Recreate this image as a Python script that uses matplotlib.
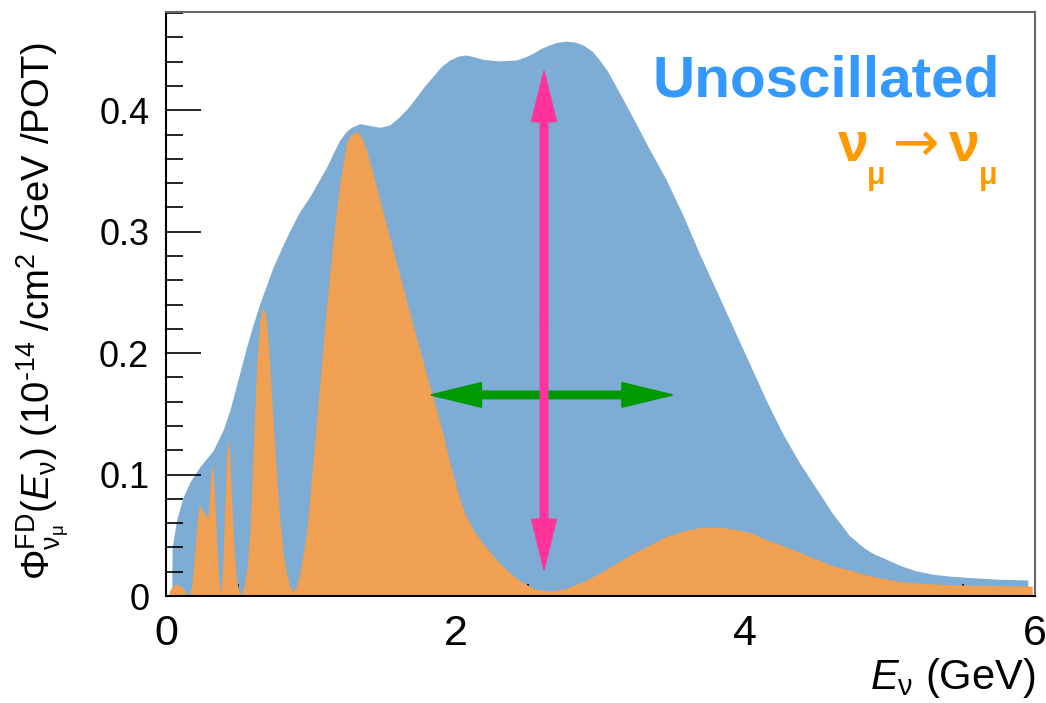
import numpy as np
import matplotlib.pyplot as plt
from matplotlib.ticker import MultipleLocator
from matplotlib.patches import FancyArrowPatch

plt.rcParams['font.family'] = ['Liberation Sans', 'DejaVu Sans']
plt.rcParams['mathtext.fontset'] = 'custom'
plt.rcParams['mathtext.rm'] = 'Liberation Sans'
plt.rcParams['mathtext.it'] = 'Liberation Sans:italic'
plt.rcParams['mathtext.bf'] = 'Liberation Sans:bold'

# unoscillated numu flux at the far detector
e_unosc = [0.04, 0.042, 0.074, 0.12, 0.166, 0.234, 0.326, 0.395, 0.441, 0.51,
           0.556, 0.60, 0.648, 0.70, 0.74, 0.80, 0.855, 0.92, 0.993, 1.05,
           1.108, 1.155, 1.2, 1.24, 1.28, 1.338, 1.407, 1.476, 1.545, 1.614,
           1.67, 1.729, 1.785, 1.843, 1.90, 1.959, 2.02, 2.074, 2.13, 2.188,
           2.303, 2.419, 2.48, 2.533, 2.59, 2.648, 2.70, 2.763, 2.82, 2.878,
           2.94, 2.993, 3.05, 3.108, 3.165, 3.223, 3.338, 3.453, 3.568, 3.683,
           3.798, 3.912, 4.028, 4.143, 4.257, 4.372, 4.487, 4.602, 4.717, 4.78,
           4.832, 4.89, 4.947, 5.062, 5.17, 5.29, 5.40, 5.52, 5.75, 5.95,
           5.951]
flux_unosc = [0.0, 0.040, 0.063, 0.082, 0.094, 0.1065, 0.120, 0.137, 0.153, 0.184,
              0.205, 0.223, 0.241, 0.258, 0.271, 0.287, 0.301, 0.316, 0.329, 0.341,
              0.353, 0.365, 0.3755, 0.382, 0.386, 0.389, 0.3875, 0.386, 0.388, 0.395,
              0.402, 0.411, 0.420, 0.428, 0.436, 0.4415, 0.4448, 0.4456, 0.4440, 0.442,
              0.4407, 0.4415, 0.444, 0.447, 0.451, 0.4539, 0.456, 0.457, 0.4563, 0.4539,
              0.449, 0.4415, 0.432, 0.4195, 0.407, 0.394, 0.368, 0.343, 0.314, 0.282,
              0.252, 0.222, 0.1917, 0.1614, 0.134, 0.110, 0.089, 0.068, 0.050, 0.0435,
              0.0386, 0.0345, 0.0317, 0.0255, 0.021, 0.018, 0.0165, 0.0154, 0.0138, 0.0132,
              0.0]

# numu -> numu survival
e_osc = [0.02, 0.022, 0.045, 0.069, 0.10, 0.12, 0.14, 0.161, 0.177, 0.2,
         0.215, 0.23, 0.255, 0.276, 0.292, 0.305, 0.312, 0.319, 0.326, 0.335,
         0.35, 0.365, 0.377, 0.39, 0.407, 0.42, 0.43, 0.44, 0.453, 0.475,
         0.487, 0.505, 0.522, 0.54, 0.56, 0.579, 0.602, 0.625, 0.648, 0.66,
         0.671, 0.682, 0.694, 0.717, 0.752, 0.786, 0.81, 0.832, 0.855, 0.878,
         0.90, 0.924, 0.97, 1.016, 1.062, 1.108, 1.154, 1.2, 1.246, 1.27,
         1.29, 1.322, 1.35, 1.384, 1.42, 1.453, 1.51, 1.568, 1.683, 1.798,
         1.912, 1.959, 2.028, 2.074, 2.13, 2.188, 2.303, 2.419, 2.533, 2.59,
         2.648, 2.70, 2.763, 2.878, 2.993, 3.108, 3.223, 3.338, 3.453, 3.568,
         3.683, 3.74, 3.798, 3.855, 3.912, 4.028, 4.143, 4.257, 4.372, 4.487,
         4.602, 4.717, 4.832, 4.947, 5.062, 5.17, 5.29, 5.52, 5.75, 5.98,
         5.981]
flux_osc = [0.0, 0.004, 0.008, 0.0099, 0.008, 0.0063, 0.002, 0.0, 0.0077, 0.038,
            0.062, 0.0757, 0.070, 0.066, 0.0667, 0.09, 0.103, 0.1087, 0.102, 0.085,
            0.045, 0.015, 0.002, 0.02, 0.079, 0.118, 0.129, 0.118, 0.079, 0.03,
            0.0145, 0.003, 0.001, 0.008, 0.025, 0.0516, 0.120, 0.189, 0.227, 0.234,
            0.237, 0.234, 0.227, 0.189, 0.120, 0.0626, 0.035, 0.0187, 0.008, 0.0035,
            0.008, 0.0187, 0.0516, 0.112, 0.175, 0.238, 0.293, 0.340, 0.373, 0.379,
            0.381, 0.3825, 0.378, 0.367, 0.352, 0.337, 0.311, 0.285, 0.233, 0.183,
            0.134, 0.11, 0.08, 0.065, 0.053, 0.0434, 0.0269, 0.0146, 0.0063, 0.0048,
            0.0041, 0.0048, 0.0063, 0.0118, 0.0187, 0.027, 0.035, 0.042, 0.049, 0.0535,
            0.0563, 0.0568, 0.0567, 0.0562, 0.0552, 0.0525, 0.0465, 0.0415, 0.036, 0.0305,
            0.025, 0.0215, 0.0175, 0.0145, 0.012, 0.0108, 0.0099, 0.009, 0.0085, 0.0082,
            0.0]

# arrows: vertical (rate) and horizontal (energy shift)
rate_arrow_x = 2.61
rate_arrow_y = [0.022, 0.432]
shift_arrow_x = [1.832, 3.494]
shift_arrow_y = 0.1656

fig = plt.figure(figsize=(10.46, 7.03), dpi=100)
ax = fig.add_axes([166/1046, 107/703, 869/1046, 584/703])

ax.fill_between(e_unosc, flux_unosc, 0, color='#7dacd4', lw=0, zorder=1)
ax.fill_between(e_osc, flux_osc, 0, color='#f0a052', lw=0, zorder=2)

ax.set_xlim(0, 6)
ax.set_ylim(0, 0.481)

ax.xaxis.set_major_locator(MultipleLocator(2))
ax.xaxis.set_minor_locator(MultipleLocator(0.5))
ax.yaxis.set_minor_locator(MultipleLocator(0.02))
ax.set_yticks([0, 0.1, 0.2, 0.3, 0.4])
ax.set_yticklabels(['0', '0.1', '0.2', '0.3', '0.4'])
ax.tick_params(axis='both', which='both', direction='in', top=False, right=False, color='black')
ax.tick_params(axis='x', which='major', length=18, width=1.2, labelsize=31, pad=13)
ax.tick_params(axis='x', which='minor', length=9, width=1.2)
ax.tick_params(axis='y', which='major', length=25, width=1.2, labelsize=26, pad=12)
ax.tick_params(axis='y', which='minor', length=12, width=1.2)
for side in ['top', 'right']:
    ax.spines[side].set_color('#666666')
for side in ax.spines:
    ax.spines[side].set_linewidth(1.5)
    ax.spines[side].set_zorder(5)


def double_arrow(p0, p1, color, z):
    # two filled arrows pointing outward from the middle
    mid = ((p0[0] + p1[0]) / 2, (p0[1] + p1[1]) / 2)
    style = 'simple,head_length=36,head_width=17.5,tail_width=5.2'
    for end in (p0, p1):
        ax.add_patch(FancyArrowPatch(mid, end, arrowstyle=style, mutation_scale=1,
                                     color=color, lw=1.2, joinstyle='round',
                                     shrinkA=0, shrinkB=0, zorder=z))


double_arrow((shift_arrow_x[0], shift_arrow_y), (shift_arrow_x[1], shift_arrow_y), '#009900', 6)
double_arrow((rate_arrow_x, rate_arrow_y[0]), (rate_arrow_x, rate_arrow_y[1]), '#ff3399', 7)

ax.text(0.9597, 0.856, 'Unoscillated', transform=ax.transAxes, ha='right', va='baseline',
        fontsize=42, fontweight='bold', color='#3399ff')

# nu_mu -> nu_mu label, built from pieces
orange = '#ff9900'
ax.text(0.772, 0.745, 'ν', transform=ax.transAxes, fontsize=40, fontweight='bold', color=orange)
ax.text(0.807, 0.706, 'μ', transform=ax.transAxes, fontsize=22, fontweight='bold', color=orange)
ax.text(0.8635, 0.746, '→', transform=ax.transAxes, ha='center', fontsize=40, color=orange,
        family='DejaVu Sans')
ax.text(0.900, 0.745, 'ν', transform=ax.transAxes, fontsize=40, fontweight='bold', color=orange)
ax.text(0.935, 0.706, 'μ', transform=ax.transAxes, fontsize=22, fontweight='bold', color=orange)

fig.text(1035/1046, 1 - 678/703, r'$E_{\mathrm{\nu}}$ (GeV)', ha='right', va='center', fontsize=30)
fig.text(43/1046, 1 - 311/703,
         r'$\Phi^{\rm FD}_{\mathrm{\nu_{\mu}}}(E_{\mathrm{\nu}})$ (10$^{\text{-14}}$ /cm$^{2}$ /GeV /POT)',
         rotation=90, ha='center', va='center', fontsize=27.5)

fig.savefig('out.png', dpi=100)
